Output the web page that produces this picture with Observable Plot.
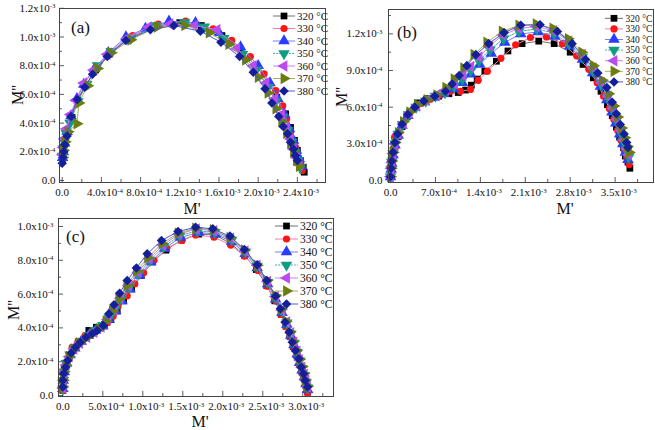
<!DOCTYPE html>
<html><head><meta charset="utf-8">
<script src="https://cdn.jsdelivr.net/npm/d3@7"></script>
<script src="https://cdn.jsdelivr.net/npm/@observablehq/plot@0.6"></script>
<style>
body{margin:0;background:#fff}
#wrap{position:relative;width:655px;height:430px;overflow:hidden;background:#fff;font-family:"Liberation Serif","Times New Roman",serif}
#wrap svg{position:absolute;overflow:visible}
</style></head><body><div id="wrap"></div>
<script>
// ---- data (values in units of 1e-3) ----
const temps = ["320 °C","330 °C","340 °C","350 °C","360 °C","370 °C","380 °C"];

const a320 = [[0.005,0.15],[0.015,0.2],[0.03,0.26],[0.055,0.33],[0.1,0.44],[0.16,0.56],[0.24,0.66],[0.34,0.77],[0.48,0.88],[0.68,0.99],[0.93,1.07],[1.2,1.1],[1.42,1.08],[1.63,1.01],[1.82,0.91],[1.99,0.79],[2.1,0.68],[2.19,0.58],[2.28,0.465],[2.33,0.37],[2.37,0.28],[2.4,0.21],[2.43,0.14],[2.46,0.093],[2.47,0.058]];
const a330 = [[0.004,0.14],[0.014,0.19],[0.028,0.25],[0.05,0.32],[0.09,0.43],[0.15,0.55],[0.23,0.66],[0.36,0.79],[0.5,0.9],[0.72,1.01],[0.98,1.09],[1.26,1.11],[1.54,1.057],[1.73,0.976],[1.92,0.864],[2.06,0.744],[2.18,0.627],[2.25,0.52],[2.29,0.43],[2.33,0.34],[2.38,0.232],[2.41,0.162],[2.43,0.105],[2.45,0.07]];
const a340 = [[0.004,0.16],[0.012,0.2],[0.025,0.26],[0.05,0.34],[0.09,0.45],[0.15,0.57],[0.22,0.67],[0.33,0.78],[0.47,0.89],[0.65,1.0],[0.85,1.06],[1.09,1.11],[1.36,1.1],[1.6,1.03],[1.82,0.93],[2.0,0.8],[2.12,0.68],[2.2,0.57],[2.27,0.46],[2.32,0.36],[2.36,0.28],[2.39,0.21],[2.42,0.15],[2.44,0.1]];
const a350 = [[0.003,0.17],[0.01,0.22],[0.02,0.27],[0.04,0.33],[0.08,0.4],[0.16,0.55],[0.25,0.67],[0.36,0.8],[0.5,0.9],[0.7,0.99],[0.95,1.08],[1.25,1.1],[1.45,1.07],[1.65,0.99],[1.84,0.88],[1.98,0.77],[2.1,0.65],[2.18,0.55],[2.25,0.44],[2.3,0.35],[2.34,0.27],[2.37,0.2],[2.4,0.14],[2.43,0.09]];
const a360 = [[0.003,0.18],[0.01,0.23],[0.022,0.29],[0.045,0.36],[0.085,0.46],[0.14,0.56],[0.22,0.68],[0.32,0.77],[0.46,0.88],[0.66,0.99],[0.88,1.07],[1.1,1.09],[1.35,1.08],[1.58,1.05],[1.78,0.92],[1.95,0.8],[2.08,0.68],[2.17,0.57],[2.24,0.46],[2.29,0.37],[2.33,0.29],[2.36,0.22],[2.39,0.16],[2.42,0.11]];
const a370 = [[0.004,0.16],[0.012,0.21],[0.03,0.27],[0.06,0.34],[0.15,0.395],[0.17,0.54],[0.26,0.66],[0.36,0.78],[0.5,0.89],[0.7,0.98],[0.97,1.07],[1.25,1.08],[1.5,1.03],[1.7,0.95],[1.87,0.84],[2.0,0.72],[2.1,0.61],[2.18,0.5],[2.24,0.41],[2.29,0.33],[2.33,0.26],[2.36,0.2],[2.39,0.14],[2.42,0.1]];
const a380 = [[0.0,0.12],[0.006,0.16],[0.016,0.2],[0.027,0.25],[0.05,0.31],[0.09,0.446],[0.153,0.564],[0.23,0.65],[0.31,0.74],[0.46,0.864],[0.65,0.976],[0.9,1.05],[1.14,1.08],[1.41,1.04],[1.62,0.964],[1.81,0.864],[1.95,0.755],[2.07,0.64],[2.14,0.54],[2.21,0.446],[2.255,0.376],[2.3,0.325],[2.33,0.267],[2.36,0.22],[2.38,0.174],[2.4,0.14]];

const b320 = [[0.0,0.02],[0.01,0.07],[0.02,0.12],[0.04,0.2],[0.07,0.28],[0.12,0.36],[0.18,0.44],[0.26,0.52],[0.3,0.56],[0.42,0.635],[0.58,0.67],[0.75,0.69],[0.91,0.71],[1.055,0.72],[1.17,0.74],[1.26,0.78],[1.35,0.83],[1.47,0.895],[1.65,0.976],[1.83,1.06],[2.05,1.12],[2.31,1.14],[2.55,1.12],[2.8,1.05],[3.0,0.95],[3.16,0.84],[3.28,0.73],[3.38,0.62],[3.455,0.53],[3.52,0.436],[3.57,0.354],[3.63,0.27],[3.66,0.2],[3.7,0.15],[3.73,0.1]];
const b330 = [[0.0,0.03],[0.01,0.09],[0.025,0.15],[0.045,0.22],[0.062,0.354],[0.11,0.37],[0.17,0.45],[0.25,0.52],[0.35,0.58],[0.48,0.63],[0.62,0.665],[0.78,0.7],[0.935,0.73],[1.09,0.73],[1.246,0.745],[1.366,0.82],[1.51,0.894],[1.72,1.0],[1.95,1.11],[2.18,1.17],[2.43,1.175],[2.68,1.12],[2.9,1.02],[3.09,0.91],[3.22,0.8],[3.32,0.69],[3.41,0.59],[3.48,0.5],[3.54,0.41],[3.59,0.33],[3.64,0.25],[3.68,0.19],[3.72,0.13]];
const b340 = [[0.0,0.03],[0.01,0.09],[0.02,0.14],[0.04,0.21],[0.07,0.29],[0.12,0.37],[0.18,0.45],[0.27,0.53],[0.38,0.6],[0.52,0.645],[0.68,0.68],[0.83,0.71],[0.98,0.75],[1.12,0.8],[1.25,0.87],[1.39,0.95],[1.57,1.04],[1.78,1.13],[2.03,1.2],[2.3,1.215],[2.56,1.18],[2.79,1.1],[2.99,0.99],[3.15,0.88],[3.27,0.77],[3.37,0.66],[3.45,0.56],[3.51,0.47],[3.57,0.38],[3.62,0.3],[3.66,0.23],[3.7,0.17]];
const b350 = [[0.0,0.03],[0.01,0.09],[0.02,0.15],[0.04,0.22],[0.07,0.3],[0.12,0.38],[0.19,0.46],[0.28,0.54],[0.4,0.6],[0.55,0.65],[0.7,0.69],[0.85,0.72],[0.99,0.77],[1.12,0.83],[1.25,0.9],[1.38,0.98],[1.55,1.07],[1.76,1.16],[2.0,1.22],[2.28,1.24],[2.55,1.205],[2.78,1.12],[2.99,1.01],[3.15,0.9],[3.28,0.79],[3.38,0.68],[3.46,0.58],[3.52,0.49],[3.58,0.4],[3.63,0.32],[3.67,0.25],[3.71,0.19]];
const b360 = [[0.0,0.03],[0.01,0.1],[0.02,0.15],[0.04,0.22],[0.07,0.3],[0.12,0.38],[0.2,0.47],[0.29,0.55],[0.41,0.61],[0.56,0.655],[0.72,0.7],[0.86,0.74],[1.0,0.79],[1.13,0.86],[1.25,0.93],[1.38,1.01],[1.54,1.1],[1.75,1.19],[2.0,1.245],[2.27,1.26],[2.54,1.225],[2.78,1.14],[2.99,1.03],[3.16,0.92],[3.29,0.8],[3.39,0.69],[3.47,0.59],[3.53,0.5],[3.59,0.41],[3.64,0.33],[3.68,0.26],[3.71,0.21]];
const b370 = [[0.0,0.03],[0.01,0.1],[0.02,0.16],[0.04,0.23],[0.07,0.31],[0.12,0.39],[0.2,0.48],[0.3,0.56],[0.42,0.62],[0.57,0.66],[0.72,0.7],[0.86,0.76],[0.99,0.83],[1.14,0.92],[1.3,1.03],[1.5,1.13],[1.74,1.22],[2.0,1.27],[2.27,1.28],[2.53,1.245],[2.77,1.16],[2.98,1.05],[3.16,0.94],[3.3,0.82],[3.4,0.71],[3.48,0.61],[3.54,0.52],[3.6,0.43],[3.65,0.35],[3.69,0.28],[3.72,0.23]];
const b380 = [[0.0,0.03],[0.01,0.1],[0.02,0.16],[0.04,0.23],[0.07,0.31],[0.11,0.38],[0.18,0.46],[0.27,0.54],[0.38,0.6],[0.52,0.65],[0.69,0.69],[0.857,0.73],[0.96,0.79],[1.07,0.86],[1.19,0.94],[1.33,1.03],[1.53,1.12],[1.77,1.21],[2.03,1.27],[2.33,1.274],[2.6,1.22],[2.83,1.12],[3.04,0.99],[3.23,0.88],[3.37,0.76],[3.455,0.64],[3.52,0.546],[3.58,0.458],[3.64,0.38],[3.68,0.31],[3.7,0.27]];

const c320 = [[0,0.03],[0.005,0.08],[0.015,0.13],[0.04,0.18],[0.08,0.23],[0.13,0.27],[0.2,0.32],[0.325,0.385],[0.42,0.404],[0.52,0.42],[0.6,0.45],[0.68,0.5],[0.76,0.56],[0.86,0.63],[0.98,0.71],[1.12,0.79],[1.29,0.86],[1.48,0.92],[1.7,0.955],[1.9,0.95],[2.1,0.9],[2.27,0.83],[2.42,0.745],[2.55,0.65],[2.65,0.56],[2.73,0.48],[2.79,0.41],[2.84,0.35],[2.88,0.29],[2.92,0.24],[2.96,0.19],[2.99,0.14],[3.02,0.1],[3.04,0.06],[3.06,0.02]];
const c330 = [[0,0.03],[0.008,0.09],[0.02,0.14],[0.05,0.2],[0.117,0.285],[0.19,0.32],[0.28,0.355],[0.38,0.38],[0.47,0.4],[0.56,0.43],[0.63,0.47],[0.69,0.528],[0.805,0.59],[0.9,0.66],[1.01,0.726],[1.14,0.8],[1.3,0.872],[1.49,0.917],[1.66,0.95],[1.89,0.937],[2.1,0.89],[2.27,0.824],[2.44,0.74],[2.555,0.647],[2.66,0.56],[2.73,0.48],[2.79,0.41],[2.84,0.35],[2.88,0.29],[2.92,0.235],[2.96,0.18],[2.99,0.13],[3.02,0.09],[3.04,0.05],[3.06,0.015]];
const c340 = [[0,0.04],[0.006,0.09],[0.018,0.14],[0.045,0.19],[0.09,0.24],[0.15,0.28],[0.23,0.32],[0.32,0.355],[0.41,0.385],[0.5,0.41],[0.58,0.45],[0.66,0.5],[0.74,0.56],[0.84,0.63],[0.96,0.71],[1.1,0.79],[1.27,0.87],[1.47,0.935],[1.7,0.965],[1.91,0.955],[2.11,0.91],[2.28,0.84],[2.43,0.755],[2.56,0.66],[2.66,0.57],[2.74,0.49],[2.8,0.42],[2.85,0.355],[2.89,0.3],[2.93,0.245],[2.96,0.195],[2.99,0.15],[3.02,0.11],[3.04,0.07],[3.06,0.035]];
const c350 = [[0,0.04],[0.006,0.09],[0.018,0.14],[0.045,0.19],[0.09,0.24],[0.15,0.28],[0.23,0.32],[0.32,0.355],[0.41,0.385],[0.5,0.415],[0.58,0.46],[0.65,0.51],[0.73,0.57],[0.83,0.64],[0.95,0.72],[1.09,0.8],[1.26,0.88],[1.46,0.945],[1.68,0.975],[1.9,0.965],[2.11,0.92],[2.28,0.85],[2.43,0.765],[2.56,0.67],[2.66,0.58],[2.74,0.5],[2.8,0.43],[2.85,0.365],[2.89,0.31],[2.93,0.255],[2.96,0.205],[2.99,0.16],[3.02,0.12],[3.04,0.08],[3.06,0.045]];
const c360 = [[0,0.045],[0.006,0.09],[0.016,0.14],[0.04,0.18],[0.08,0.23],[0.14,0.275],[0.21,0.31],[0.3,0.345],[0.39,0.375],[0.48,0.405],[0.56,0.45],[0.64,0.51],[0.72,0.575],[0.82,0.65],[0.94,0.73],[1.08,0.81],[1.25,0.89],[1.45,0.955],[1.67,0.985],[1.89,0.975],[2.1,0.93],[2.28,0.855],[2.43,0.77],[2.56,0.675],[2.66,0.585],[2.74,0.505],[2.8,0.435],[2.85,0.37],[2.89,0.315],[2.93,0.26],[2.96,0.21],[2.99,0.165],[3.02,0.125],[3.04,0.09],[3.06,0.05]];
const c370 = [[0,0.05],[0.006,0.09],[0.016,0.14],[0.04,0.18],[0.08,0.23],[0.14,0.275],[0.21,0.31],[0.29,0.34],[0.37,0.365],[0.46,0.395],[0.54,0.44],[0.62,0.5],[0.7,0.57],[0.8,0.65],[0.92,0.735],[1.06,0.815],[1.24,0.9],[1.44,0.96],[1.66,0.99],[1.88,0.98],[2.09,0.935],[2.27,0.86],[2.43,0.77],[2.55,0.68],[2.66,0.59],[2.73,0.51],[2.79,0.44],[2.84,0.375],[2.88,0.32],[2.92,0.265],[2.96,0.215],[2.99,0.17],[3.01,0.13],[3.03,0.09],[3.06,0.055]];
const c380 = [[0,0.05],[0.0,0.09],[0.012,0.13],[0.034,0.167],[0.063,0.207],[0.105,0.252],[0.16,0.286],[0.22,0.315],[0.29,0.345],[0.367,0.365],[0.43,0.385],[0.505,0.414],[0.575,0.483],[0.64,0.537],[0.71,0.605],[0.805,0.68],[0.92,0.755],[1.055,0.838],[1.234,0.917],[1.44,0.97],[1.66,0.996],[1.875,0.986],[2.09,0.943],[2.27,0.864],[2.43,0.773],[2.55,0.68],[2.66,0.588],[2.72,0.513],[2.78,0.434],[2.83,0.375],[2.87,0.315],[2.91,0.266],[2.95,0.217],[2.98,0.167],[3.01,0.128],[3.03,0.089],[3.06,0.05]];

// tick values (units of 1e-3)
const aXMajor = [0,0.4,0.8,1.2,1.6,2.0,2.4], aXMinor = [0.2,0.6,1.0,1.4,1.8,2.2,2.6];
const aYMajor = [0,0.2,0.4,0.6,0.8,1.0,1.2], aYMinor = [0.1,0.3,0.5,0.7,0.9,1.1];
const bXMajor = [0,0.7,1.4,2.1,2.8,3.5], bXMinor = [0.35,1.05,1.75,2.45,3.15,3.85];
const bYMajor = [0,0.3,0.6,0.9,1.2], bYMinor = [0.15,0.45,0.75,1.05,1.35];
const cXMajor = [0,0.5,1.0,1.5,2.0,2.5,3.0], cXMinor = [0.25,0.75,1.25,1.75,2.25,2.75,3.25];
const cYMajor = [0,0.2,0.4,0.6,0.8,1.0], cYMinor = [0.1,0.3,0.5,0.7,0.9];

// ---- styles ----
const markerColors = ["#000000","#ff1414","#2a3cff","#0f9c82","#b94bf0","#6b7d0e","#14209a"];
const lineColors   = ["#707070","#ff7aa8","#7080ff","#3fb596","#d07cf5","#a5b060","#4a58d0"];
function tri(f){return {draw(ctx,size){const k=Math.sqrt(size/(Math.sqrt(3)*3)),s=Math.sqrt(3);const P=f(k,s);ctx.moveTo(P[0][0],P[0][1]);ctx.lineTo(P[1][0],P[1][1]);ctx.lineTo(P[2][0],P[2][1]);ctx.closePath();}};}
const triUp = tri((k,s)=>[[0,-2*k],[s*k,k],[-s*k,k]]);
const triDown = tri((k,s)=>[[0,2*k],[s*k,-k],[-s*k,-k]]);
const triLeft = tri((k,s)=>[[-2*k,0],[k,s*k],[k,-s*k]]);
const triRight = tri((k,s)=>[[2*k,0],[-k,s*k],[-k,-s*k]]);
const symbols = [d3.symbolSquare,d3.symbolCircle,triUp,triDown,triLeft,triRight,d3.symbolDiamond2];
const radii = [3.8,3.6,4.3,4.3,4.3,4.3,4.3];

function fmt(v){
  if (Math.abs(v)<1e-9) return "0.0";
  if (v<1) return (v*10).toFixed(1)+"x10^-4";
  return v.toFixed(1)+"x10^-3";
}
function superscripts(svg, axis){
  d3.select(svg).selectAll(`g[aria-label="${axis}-axis tick label"] text`).each(function(){
    const t=this.textContent; const m=t.match(/^(.*x10)\^(.+)$/);
    if(!m) return;
    const sel=d3.select(this); sel.text(null);
    sel.append("tspan").text(m[1]);
    sel.append("tspan").attr("dy","-0.5em").attr("font-size","0.62em").text(m[2]);
    if(axis==="x") this.setAttribute("transform",(this.getAttribute("transform")||"")+" translate(3.5,0)");
  });
}

const wrap = document.getElementById("wrap");

function panel(c){
  const iw=c.W-c.m.l-c.m.r, ih=c.H-c.m.t-c.m.b;
  const tk={stroke:"#333",strokeWidth:0.8};
  const marks=[
    Plot.tickX(c.xMin,{x:d=>d,insetTop:ih-3,...tk}),
    Plot.tickX(c.xMaj,{x:d=>d,insetTop:ih-5,...tk}),
    Plot.tickY(c.yMin,{y:d=>d,insetRight:iw-3,...tk}),
    Plot.tickY(c.yMaj,{y:d=>d,insetRight:iw-5,...tk}),
    Plot.axisX(c.xMaj,{tickSize:0,tickPadding:c.xpad,tickFormat:fmt,label:null,fontSize:11}),
    Plot.axisY(c.yMaj,{tickSize:0,tickPadding:c.ypad,tickFormat:fmt,label:null,fontSize:11})
  ];
  c.series.forEach((pts,i)=>{
    const d=pts.map(([x,y])=>({x,y,t:temps[i]}));
    const lo={x:"x",y:"y",stroke:lineColors[i],strokeWidth:1};
    if(i===3) lo.strokeDasharray="2,1.2";
    marks.push(Plot.line(d,lo));
    marks.push(Plot.dot(d,{x:"x",y:"y",symbol:symbols[i],r:radii[i],fill:markerColors[i],stroke:"none"}));
  });
  marks.push(Plot.frame({stroke:"#444",strokeWidth:1}));
  const svg=Plot.plot({width:c.W,height:c.H,marginTop:c.m.t,marginRight:c.m.r,marginBottom:c.m.b,marginLeft:c.m.l,
    x:{domain:c.xd},y:{domain:c.yd},
    style:{fontFamily:'"Liberation Serif","Times New Roman",serif',fontSize:"11px",color:"#111",background:"transparent"},
    marks});
  svg.style.left=c.left+"px"; svg.style.top=c.top+"px";
  superscripts(svg,"x"); superscripts(svg,"y");
  const s=d3.select(svg);
  // panel letter
  s.append("text").attr("x",c.tag[0]).attr("y",c.tag[1]).attr("text-anchor","start").attr("font-size",17).attr("fill","#111").text(c.tag[2]);
  // axis titles
  s.append("text").attr("transform",`translate(${c.ylab[0]},${c.ylab[1]}) rotate(-90)`).attr("text-anchor","middle").attr("font-size",16).attr("fill","#111").text("M''");
  s.append("text").attr("x",c.xlab[0]).attr("y",c.xlab[1]).attr("text-anchor","middle").attr("font-size",16).attr("fill","#111").text("M'");
  // legend
  const L=c.leg;
  temps.forEach((t,i)=>{
    const y=L.y0+L.dy*i;
    const g=s.append("g");
    const ln=g.append("line").attr("x1",L.x0).attr("x2",L.x1).attr("y1",y).attr("y2",y).attr("stroke",lineColors[i]).attr("stroke-width",1);
    if(i===3) ln.attr("stroke-dasharray","2,1.2");
    g.append("path").attr("transform",`translate(${L.xm},${y})`).attr("d",d3.symbol(symbols[i],radii[i]*radii[i]*Math.PI)()).attr("fill",markerColors[i]);
    g.append("text").attr("x",L.xt).attr("y",y).attr("dy","0.35em").attr("text-anchor","start").attr("font-size",L.fs).attr("fill","#111").text(t);
  });
  wrap.appendChild(svg);
}

panel({left:0,top:0,W:330,H:215,m:{t:8,r:5,b:33,l:59},xd:[-0.0276,2.687],yd:[-0.0139,1.1986],
  xMaj:aXMajor,xMin:aXMinor,yMaj:aYMajor,yMin:aYMinor,xpad:6,ypad:4,
  series:[a320,a330,a340,a350,a360,a370,a380],
  tag:[71,33,"(a)"],ylab:[23,95],xlab:[192,214],
  leg:{x0:273,x1:295,xm:284,xt:297,y0:16,dy:12.5,fs:11}});

panel({left:330,top:0,W:325,H:215,m:{t:9,r:2,b:33,l:58},xd:[-0.0312,4.098],yd:[-0.0164,1.3993],
  xMaj:bXMajor,xMin:bXMinor,yMaj:bYMajor,yMin:bYMinor,xpad:6,ypad:6,
  series:[b320,b330,b340,b350,b360,b370,b380],
  tag:[67,38,"(b)"],ylab:[17,97],xlab:[235,214],
  leg:{x0:275,x1:293,xm:284,xt:295.5,y0:18.3,dy:10.6,fs:9.5}});

panel({left:0,top:215,W:345,H:215,m:{t:3,r:12,b:34,l:58},xd:[-0.054,3.384],yd:[-0.0059,1.0473],
  xMaj:cXMajor,xMin:cXMinor,yMaj:cYMajor,yMin:cYMinor,xpad:6,ypad:5,
  series:[c320,c330,c340,c350,c360,c370,c380],
  tag:[66,26.5,"(c)"],ylab:[18.5,95],xlab:[200,212],
  leg:{x0:275,x1:298,xm:286.5,xt:300,y0:11,dy:13,fs:11.5}});
</script></body></html>
